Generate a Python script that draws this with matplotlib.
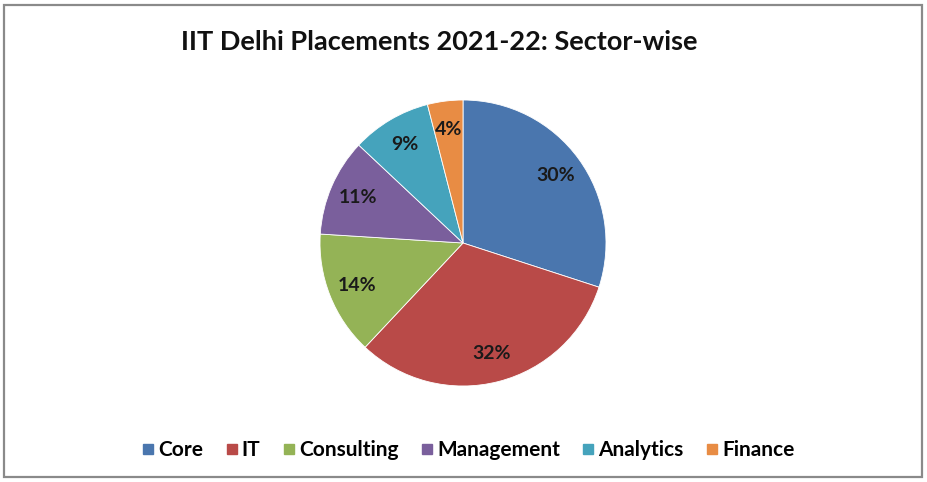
import matplotlib
matplotlib.use("Agg")
import matplotlib.pyplot as plt
from matplotlib.patches import Rectangle
from matplotlib.lines import Line2D

sectors = ["Core", "IT", "Consulting", "Management", "Analytics", "Finance"]
shares = [30, 32, 14, 11, 9, 4]
colors = ["#4A76AE", "#B94A48", "#94B356", "#7A5F9C", "#45A3BC", "#E88C44"]
title = "IIT Delhi Placements 2021-22: Sector-wise"

W, H = 927, 482
fig = plt.figure(figsize=(W / 100, H / 100), dpi=100)
fig.patch.set_facecolor("white")

# border
fig.add_artist(Rectangle((4 / W, 5 / H), (W - 9) / W, (H - 10) / H,
                         transform=fig.transFigure, fill=False,
                         edgecolor="#8a8a8a", linewidth=1.6))

cx, cy, r = 463, 243, 143
ax = fig.add_axes([(cx - r) / W, (H - cy - r) / H, 2 * r / W, 2 * r / H])
wedges, texts, autotexts = ax.pie(
    shares, colors=colors, startangle=90, counterclock=False,
    autopct=lambda p: f"{p:.0f}%", pctdistance=0.8,
    wedgeprops=dict(edgecolor="white", linewidth=0.6),
    textprops=dict(fontsize=14, fontweight="bold", color="#1a1a1a",
                   family="Lato"))
ax.set_xlim(-1, 1)
ax.set_ylim(-1, 1)
ax.set_aspect("equal")
ax.axis("off")

fig.text(439 / W, 1 - 42 / H, title, ha="center", va="center",
         fontsize=19.5, fontweight="bold", family="Lato", color="#111111")

handles = [Line2D([], [], marker="s", linestyle="none", markersize=6.5,
                  markerfacecolor=c, markeredgecolor=c) for c in colors]
fig.legend(handles, sectors, loc="center", bbox_to_anchor=(469 / W, 1 - 450 / H),
           ncol=6, frameon=False, handlelength=0.45, handletextpad=0.25,
           columnspacing=1.15, borderpad=0.2,
           prop=dict(family="Lato", weight="bold", size=15))

fig.savefig("out.png", dpi=100, facecolor="white")
